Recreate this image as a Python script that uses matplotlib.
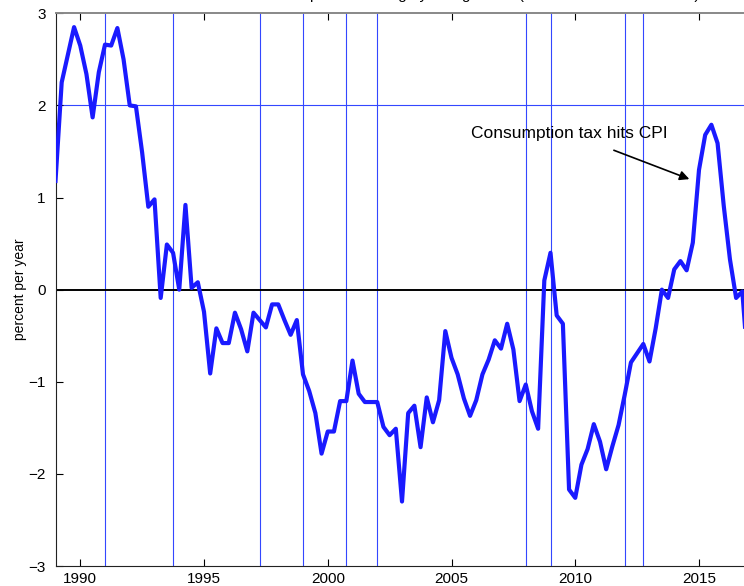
import numpy as np
import matplotlib.pyplot as plt

plt.rcParams['font.family'] = ['Liberation Sans', 'DejaVu Sans']

# quarterly inflation, percent per year, starting 1989Q1
start_year = 1989.0
inflation = [1.18, 2.25, 2.55, 2.85, 2.65, 2.34, 1.87, 2.36, 2.66, 2.65,
             2.84, 2.50, 2.00, 1.99, 1.49, 0.90, 0.98, -0.09, 0.49, 0.40,
             0.00, 0.92, 0.02, 0.08, -0.24, -0.91, -0.42, -0.58, -0.58, -0.25,
             -0.43, -0.67, -0.25, -0.33, -0.41, -0.16, -0.16, -0.33, -0.49, -0.33,
             -0.92, -1.10, -1.34, -1.78, -1.54, -1.54, -1.21, -1.21, -0.77, -1.13,
             -1.22, -1.22, -1.22, -1.49, -1.58, -1.51, -2.30, -1.34, -1.26, -1.71,
             -1.17, -1.44, -1.20, -0.45, -0.74, -0.92, -1.18, -1.37, -1.20, -0.92,
             -0.76, -0.55, -0.64, -0.37, -0.65, -1.21, -1.03, -1.32, -1.51, 0.10,
             0.40, -0.28, -0.37, -2.17, -2.26, -1.90, -1.73, -1.46, -1.65, -1.95,
             -1.70, -1.47, -1.14, -0.79, -0.69, -0.59, -0.78, -0.42, 0.00, -0.09,
             0.22, 0.31, 0.21, 0.51, 1.30, 1.68, 1.79, 1.59, 0.91, 0.33,
             -0.09, -0.02, -0.90]
quarters = start_year + 0.25 * np.arange(len(inflation))

# peak / trough dates
cycle_dates = [1991.0, 1993.75, 1997.25, 1999.0, 2000.75, 2002.0,
               2008.0, 2009.0, 2012.0, 2012.75]
target = 2.0

fig = plt.figure(figsize=(7.44, 5.86), dpi=100)
ax = fig.add_axes([55.5 / 744, 20 / 586, 28.5 * 24.75 / 744, 552.7 / 586])

for d in cycle_dates:
    ax.axvline(d, color='#3347ff', lw=0.8, zorder=1)
ax.axhline(target, color='#3347ff', lw=0.8, zorder=1)
ax.axhline(0, color='black', lw=1.4, zorder=2)

ax.plot(quarters, inflation, color='#1a1aff', lw=3.0, zorder=3)

ax.annotate('Consumption tax hits CPI', xy=(2014.61, 1.20), xytext=(2009.74, 1.70),
            ha='center', va='center', fontsize=12.5,
            arrowprops=dict(arrowstyle='-|>', color='black', lw=1.2,
                            mutation_scale=14, shrinkA=14, shrinkB=0))

ax.set_xlim(1989.0, 2017.5)
ax.set_ylim(-3, 3)
ax.set_xticks([1990, 1995, 2000, 2005, 2010, 2015])
ax.set_yticks([-3, -2, -1, 0, 1, 2, 3])
ax.tick_params(direction='in', length=5, top=True, right=True, labelsize=11,
               width=0.8)
ax.tick_params(axis='x', pad=4)
ax.tick_params(axis='y', pad=7)
ax.set_ylabel('percent per year', fontsize=10, labelpad=1)

for s in ['left', 'bottom', 'right']:
    ax.spines[s].set_color('#222222')
    ax.spines[s].set_linewidth(0.8)
ax.spines['top'].set_color('#888888')
ax.spines['top'].set_linewidth(1.4)

fig.text(310 / 744, 1 + 1 / 586, 'percent change year ago level (ex fresh food and alcohol)',
         ha='left', va='baseline', fontsize=11)

fig.savefig('out.png', dpi=100)
